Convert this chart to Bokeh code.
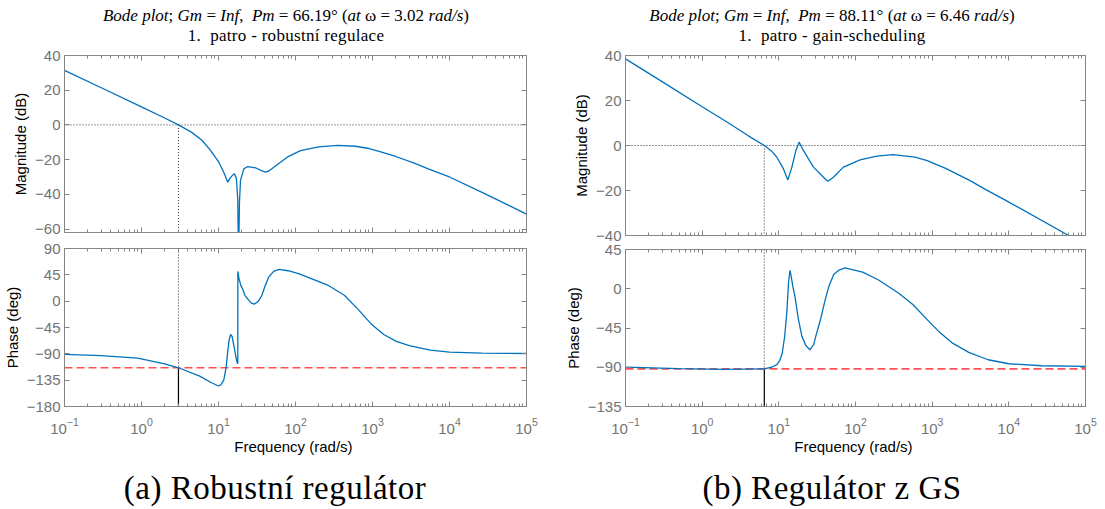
from bokeh.plotting import figure
from bokeh.models import (Range1d, FixedTicker, LinearAxis, LogAxis, Div,
                          CustomJSTickFormatter)
from bokeh.layouts import row, column
from bokeh.embed import file_html
from bokeh.resources import INLINE

# ---------------- data ----------------
# (a) robust controller
mag_a_w = [0.1, 0.3, 1.0, 2.0, 3.02, 4.5, 6.14, 7.87, 10.1, 11.7, 13.2, 14.2, 15.1, 16.1,
           17.1, 17.8, 18.2, 18.7, 19.3, 21.3, 24.0, 30.3, 36.0, 40.8, 46.0, 52.3, 78.0,
           116.0, 200.0, 355.0, 600.0, 900.0, 1220.0, 2000.0, 3420.0, 5500.0, 10000.0,
           26900.0, 100000.0]
mag_a_db = [31.4, 21.4, 10.4, 4.0, 0.0, -4.3, -9.0, -14.7, -21.5, -27.3, -33.0, -30.5, -29.2,
            -28.2, -31.0, -43.6, -80.0, -45.0, -32.0, -25.3, -24.0, -24.7, -26.3, -27.2, -26.3,
            -24.4, -18.6, -14.8, -12.7, -11.8, -12.3, -13.6, -15.2, -18.2, -21.9, -25.6,
            -30.0, -39.0, -51.4]
ph_a_w = [0.1, 0.3, 0.89, 2.0, 3.02, 5.7, 8.0, 10.0, 10.7, 11.7, 12.5, 13.2, 13.8, 14.4,
          15.0, 15.9, 16.8, 17.5, 17.8, 17.85, 18.5, 19.5, 20.6, 22.0, 24.1, 26.5, 29.0,
          33.0, 36.4, 40.0, 44.8, 52.0, 61.0, 80.0, 112.0, 257.0, 431.0, 650.0, 977.0,
          1400.0, 2040.0, 3000.0, 5620.0, 10000.0, 26300.0, 100000.0]
ph_a_deg = [-91.0, -93.0, -97.5, -107.0, -113.8, -128.0, -139.0, -145.0, -143.0, -135.0,
            -115.0, -85.0, -65.0, -57.0, -60.0, -77.0, -95.0, -105.0, -107.0, 50.8, 38.0,
            27.0, 20.8, 10.0, 3.5, -3.0, -5.2, 0.0, 9.2, 25.0, 41.0, 51.0, 54.2, 52.0, 46.7,
            28.0, 10.0, -14.0, -40.0, -57.0, -68.7, -76.0, -83.5, -87.0, -88.8, -89.4]
wc_a = 3.02
pm_a = 66.19

# (b) gain-scheduling controller
mag_b_w = [0.1, 0.3, 1.0, 2.21, 4.0, 6.46, 8.0, 9.44, 11.5, 13.1, 14.8, 16.7, 18.4, 20.9,
           28.3, 38.2, 43.6, 51.5, 69.5, 115.0, 190.0, 310.0, 600.0, 861.0, 1500.0, 3126.0,
           5000.0, 9120.0, 60300.0, 100000.0]
mag_b_db = [38.5, 28.4, 17.2, 10.0, 4.3, 0.0, -2.4, -5.2, -10.4, -15.3, -9.6, -2.2, 1.5, -2.2,
            -9.6, -14.1, -15.9, -14.1, -9.6, -6.4, -4.7, -4.1, -5.2, -6.7, -10.2, -15.6,
            -19.6, -24.4, -40.0, -44.4]
ph_b_w = [0.1, 0.5, 1.9, 6.46, 8.0, 9.44, 10.3, 11.1, 11.9, 12.7, 13.4, 14.0, 14.5, 15.2,
          16.2, 18.0, 20.0, 22.5, 25.4, 28.5, 30.0, 35.0, 40.3, 45.0, 52.0, 60.0, 73.0,
          124.0, 200.0, 363.0, 560.0, 861.0, 1250.0, 1820.0, 3000.0, 5370.0, 10000.0,
          26900.0, 100000.0]
ph_b_deg = [-89.8, -91.5, -92.5, -91.9, -90.0, -87.0, -82.0, -73.7, -55.0, -27.8, 8.0, 21.0,
            14.0, 3.0, -8.6, -35.0, -54.6, -65.0, -70.0, -64.0, -56.0, -35.0, -12.4, 3.0,
            16.3, 21.0, 24.0, 19.0, 10.0, -4.8, -18.0, -35.4, -50.0, -62.0, -73.0, -81.4,
            -86.0, -88.3, -89.0]
wc_b = 6.46
pm_b = 88.11

x_major = [0.1, 1.0, 10.0, 100.0, 1000.0, 10000.0, 100000.0]
mag_a_ticks = [-60, -40, -20, 0, 20, 40]
mag_b_ticks = [-40, -20, 0, 20, 40]
ph_a_ticks = [-180, -135, -90, -45, 0, 45, 90]
ph_b_ticks = [-135, -90, -45, 0, 45]

title_a1 = ("<i>Bode plot</i>; <i>Gm</i> = <i>Inf</i>, &nbsp;<i>Pm</i> = 66.19&deg; "
            "(<i>at</i> &omega; = 3.02 <i>rad/s</i>)")
title_a2 = "1. &nbsp;patro - robustn&iacute; regulace"
title_b1 = ("<i>Bode plot</i>; <i>Gm</i> = <i>Inf</i>, &nbsp;<i>Pm</i> = 88.11&deg; "
            "(<i>at</i> &omega; = 6.46 <i>rad/s</i>)")
title_b2 = "1. &nbsp;patro - gain-scheduling"
caption_a = "(a) Robustn&iacute; regul&aacute;tor"
caption_b = "(b) Regul&aacute;tor z GS"

# ---------------- style ----------------
BLUE = "#0072BD"
GRAY = "#858585"
TICKC = "#737373"
SANS = "Liberation Sans"
x_minor = [m * d for d in x_major[:-1] for m in range(2, 10)]


def style_axis(ax, labels):
    ax.axis_line_color = GRAY
    ax.major_tick_line_color = GRAY
    ax.minor_tick_line_color = GRAY
    ax.major_tick_in = 5
    ax.major_tick_out = 0
    ax.minor_tick_in = 3
    ax.minor_tick_out = 0
    ax.major_label_text_font = SANS
    ax.major_label_text_color = TICKC
    ax.major_label_text_font_size = "15px"
    ax.axis_label_text_font = SANS
    ax.axis_label_text_font_style = "normal"
    ax.axis_label_text_color = "#000000"
    ax.axis_label_text_font_size = "15px"
    if not labels:
        ax.formatter = CustomJSTickFormatter(code="return ''")
        ax.major_label_standoff = 0


def make_fig(width, height, yr, yticks, left, right, top, bottom, ylabel, xlabels):
    p = figure(width=width, height=height, x_axis_type="log",
               x_range=Range1d(0.1, 1e5), y_range=Range1d(*yr),
               output_backend="svg", toolbar_location=None,
               min_border_left=left, min_border_right=right,
               min_border_top=top, min_border_bottom=bottom)
    p.xgrid.visible = False
    p.ygrid.visible = False
    p.outline_line_color = GRAY
    p.border_fill_color = "white"
    xt = FixedTicker(ticks=x_major, minor_ticks=x_minor)
    yt = FixedTicker(ticks=yticks, minor_ticks=[])
    p.xaxis.ticker = xt
    p.yaxis.ticker = yt
    for ax in p.xaxis:
        style_axis(ax, xlabels)
        if xlabels:
            ax.major_label_standoff = 11
            ax.axis_label = "Frequency  (rad/s)"
            ax.axis_label_standoff = 1
    for ax in p.yaxis:
        style_axis(ax, True)
        ax.major_label_standoff = 4
        ax.axis_label = ylabel
        ax.axis_label_standoff = 3
    top_ax = LogAxis(ticker=xt)
    style_axis(top_ax, False)
    p.add_layout(top_ax, "above")
    right_ax = LinearAxis(ticker=yt)
    style_axis(right_ax, False)
    p.add_layout(right_ax, "right")
    return p


def title_div(t1, t2, inner_w):
    html = ('<div style="width:%dpx;text-align:center;font-family:\'Liberation Serif\';'
            'color:#000;padding-top:6px;line-height:20px;">'
            '<div style="font-size:17px;white-space:nowrap;">%s</div>'
            '<div style="font-size:17px;letter-spacing:0.3px;white-space:nowrap;">%s</div>'
            '</div>') % (inner_w, t1, t2)
    return Div(text=html, width=552, height=47, margin=0)


def caption_div(cap, inner_w, h):
    html = ('<div style="width:%dpx;text-align:center;font-family:\'Liberation Serif\';'
            'color:#000;font-size:33px;letter-spacing:0.5px;line-height:40px;'
            'padding-top:6px;white-space:nowrap;">%s</div>') % (inner_w, cap)
    return Div(text=html, width=552, height=h, margin=0)


def mag_panel(w, db, yr, yticks, wc, left, right, frame_h, bottom):
    p = make_fig(552, 8 + frame_h + bottom, yr, yticks, left, right, 8, bottom,
                 "Magnitude (dB)", False)
    p.segment(x0=[0.1], y0=[0], x1=[1e5], y1=[0], line_color="#303030",
              line_width=1, line_dash="1 2")
    p.segment(x0=[wc], y0=[0], x1=[wc], y1=[yr[0]], line_color="#303030",
              line_width=1, line_dash="1 2")
    p.line(w, db, line_color=BLUE, line_width=1.3)
    return p


def phase_panel(w, deg, yr, yticks, wc, pm, left, right, top, frame_h):
    p = make_fig(552, top + frame_h + 56, yr, yticks, left, right, top, 56,
                 "Phase (deg)", True)
    pc = -180 + pm
    if yr[0] <= -180:
        p.segment(x0=[0.1], y0=[-180], x1=[1e5], y1=[-180], line_color="#303030",
                  line_width=1, line_dash="1 2")
    p.segment(x0=[wc], y0=[yr[1]], x1=[wc], y1=[pc], line_color="#303030",
              line_width=1, line_dash="1 2")
    p.segment(x0=[wc], y0=[pc], x1=[wc], y1=[yr[0]], line_color="black", line_width=1.2)
    p.segment(x0=[0.1], y0=[pc], x1=[1e5], y1=[pc], line_color="#FF5050",
              line_width=1.6, line_dash="8 4")
    p.line(w, deg, line_color=BLUE, line_width=1.3)
    return p


# left column: frame x 64..526 ; right column: frame x 625..1086
ma = mag_panel(mag_a_w, mag_a_db, (-62.0, 40.0), mag_a_ticks, wc_a, 64, 26, 177, 9)
pa = phase_panel(ph_a_w, ph_a_deg, (-180.0, 90.0), ph_a_ticks, wc_a, pm_a, 64, 26, 7, 158)
mb = mag_panel(mag_b_w, mag_b_db, (-40.0, 40.0), mag_b_ticks, wc_b, 73, 19, 180, 7)
pb = phase_panel(ph_b_w, ph_b_deg, (-135.0, 45.0), ph_b_ticks, wc_b, pm_b, 73, 19, 7, 157)

col_a = column(title_div(title_a1, title_a2, 572), ma, pa, caption_div(caption_a, 550, 47),
               spacing=0)
col_b = column(title_div(title_b1, title_b2, 560), mb, pb, caption_div(caption_b, 560, 47),
               spacing=0)
layout = row(col_a, col_b, spacing=0)
open("out.html", "w").write(file_html(layout, INLINE))
